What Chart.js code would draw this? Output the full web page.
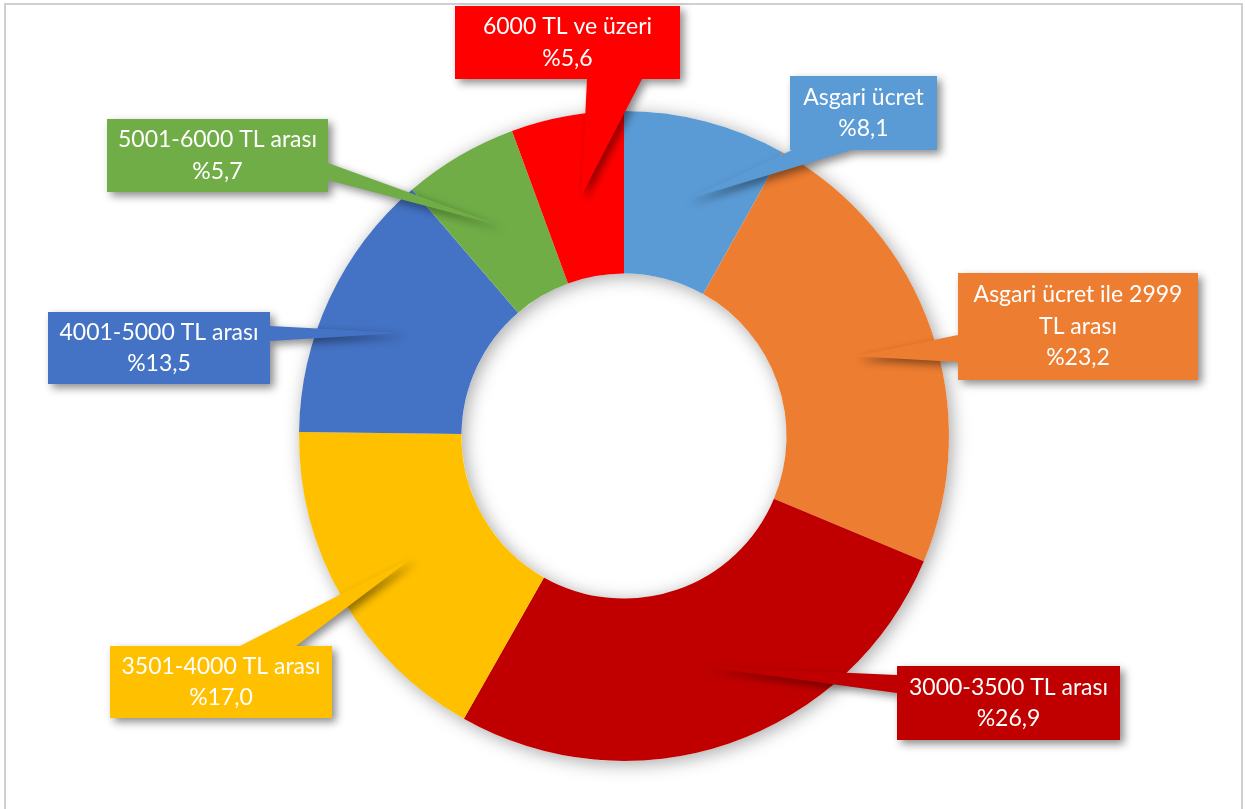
<!DOCTYPE html>
<html>
<head>
<meta charset="utf-8">
<script src="https://cdn.jsdelivr.net/npm/chart.js@4"></script>
<style>
  body { margin: 0; background: #fff; }
  canvas { display: block; }
</style>
</head>
<body>
<canvas id="chart" width="1245" height="809"></canvas>
<script>
// maaş dilimleri (%)
const labels = ['Asgari ücret', ['Asgari ücret ile 2999', 'TL arası'], '3000-3500 TL arası', '3501-4000 TL arası', '4001-5000 TL arası', '5001-6000 TL arası', '6000 TL ve üzeri'];
const values = [8.1, 23.2, 26.9, 17.0, 13.5, 5.7, 5.6];
const colors = ['#5B9BD5', '#ED7D31', '#C00000', '#FFC000', '#4472C4', '#70AD47', '#FF0000'];

// callout boxes: x, y, w, h and the two base points of the pointer
const boxes = [
    {x: 790, y: 76, w: 147, h: 74, base: [[792, 150], [852, 150]]},
    {x: 958, y: 273, w: 240, h: 107, base: [[958, 335], [958, 362]]},
    {x: 897, y: 666, w: 223, h: 74, base: [[897, 675], [897, 693]]},
    {x: 110, y: 646, w: 222, h: 72, base: [[240, 646], [296, 646]]},
    {x: 48, y: 312, w: 222, h: 72, base: [[270, 326], [270, 341]]},
    {x: 107, y: 119, w: 221, h: 73, base: [[328, 163], [328, 180]]},
    {x: 455, y: 6, w: 225, h: 73, base: [[587, 79], [642, 79]]}
];

function pct(v) {
    return '%' + v.toFixed(1).replace('.', ',');
}

const pageFrame = {
    id: 'pageFrame',
    beforeDraw(chart) {
        let ctx = chart.ctx;
        ctx.save();
        ctx.fillStyle = '#fff';
        ctx.fillRect(0, 0, chart.width, chart.height);
        ctx.strokeStyle = '#d0d0d0';
        ctx.lineWidth = 2;
        ctx.strokeRect(5, 4, 1237, 830);
        ctx.restore();
    },
    beforeDatasetsDraw(chart) {
        // soft shadow under the ring
        let arc = chart.getDatasetMeta(0).data[0];
        let ctx = chart.ctx;
        ctx.save();
        ctx.shadowColor = 'rgba(0,0,0,0.35)';
        ctx.shadowBlur = 18;
        ctx.shadowOffsetX = 3;
        ctx.shadowOffsetY = 3;
        ctx.fillStyle = '#fff';
        ctx.beginPath();
        ctx.arc(arc.x, arc.y, arc.outerRadius, 0, Math.PI * 2);
        ctx.arc(arc.x, arc.y, arc.innerRadius, 0, Math.PI * 2, true);
        ctx.fill('evenodd');
        ctx.restore();
    }
};

const callouts = {
    id: 'callouts',
    afterDatasetsDraw(chart) {
        let ctx = chart.ctx;
        let arcs = chart.getDatasetMeta(0).data;
        arcs.forEach((arc, i) => {
            let b = boxes[i];
            let tip = arc.tooltipPosition();
            ctx.save();
            ctx.shadowColor = 'rgba(0,0,0,0.45)';
            ctx.shadowBlur = 8;
            ctx.shadowOffsetX = 4;
            ctx.shadowOffsetY = 4;
            ctx.fillStyle = colors[i];
            ctx.beginPath();
            ctx.rect(b.x, b.y, b.w, b.h);
            ctx.moveTo(b.base[0][0], b.base[0][1]);
            ctx.lineTo(tip.x, tip.y);
            ctx.lineTo(b.base[1][0], b.base[1][1]);
            ctx.closePath();
            ctx.fill();
            ctx.restore();

            let lines = [].concat(labels[i], pct(values[i]));
            let lh = 31.5;
            let cy = b.y + b.h / 2 - (lines.length - 1) * lh / 2;
            ctx.save();
            ctx.fillStyle = '#fff';
            ctx.font = '23px Lato';
            ctx.textAlign = 'center';
            ctx.textBaseline = 'middle';
            lines.forEach((t, k) => {
                ctx.fillText(t, b.x + b.w / 2, cy + k * lh);
            });
            ctx.restore();
        });
    }
};

let ctx = document.querySelector('#chart').getContext('2d');
let myChart = new Chart(ctx, {
    type: 'doughnut',
    data: {
        labels: labels,
        datasets: [{
            data: values,
            backgroundColor: colors,
            borderWidth: 0
        }]
    },
    options: {
        responsive: false,
        animation: false,
        cutout: '50%',
        layout: {
            padding: {top: 111, bottom: 48, left: 3, right: 0}
        },
        plugins: {
            legend: {display: false},
            tooltip: {enabled: false}
        }
    },
    plugins: [pageFrame, callouts]
});
</script>
</body>
</html>
